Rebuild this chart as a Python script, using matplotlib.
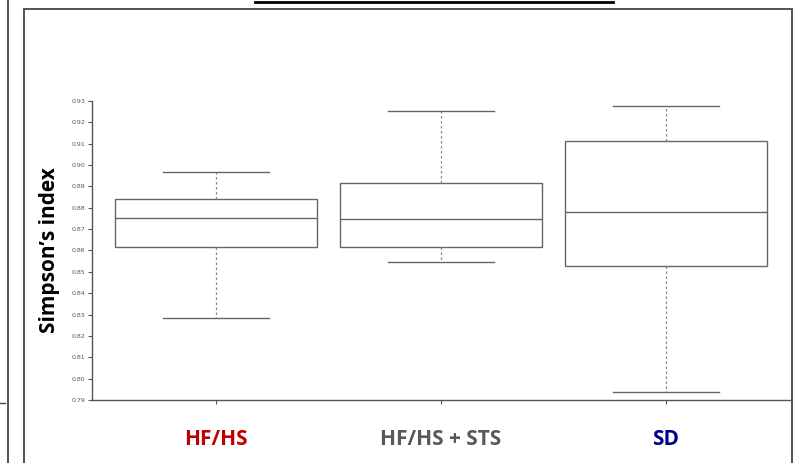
import matplotlib
matplotlib.use('Agg')
import matplotlib.pyplot as plt
import matplotlib.lines as mlines
import matplotlib.patches as patches

# data (box-plot summary per group)
groups = ['HF/HS', 'HF/HS + STS', 'SD']
group_colors = ['#c00000', '#595959', '#00008b']
whislo = [0.8284, 0.8546, 0.7938]
q1 = [0.8616, 0.8616, 0.8528]
med = [0.8752, 0.8748, 0.8780]
q3 = [0.8841, 0.8916, 0.9113]
whishi = [0.8968, 0.9253, 0.9277]
yticks = [0.79, 0.80, 0.81, 0.82, 0.83, 0.84, 0.85, 0.86, 0.87, 0.88, 0.89, 0.90, 0.91, 0.92, 0.93]

W, H = 796, 463
fig = plt.figure(figsize=(W / 100, H / 100), dpi=100, facecolor='white')
ax = fig.add_axes([92 / W, 1 - 400 / H, (790 - 92) / W, (400 - 101) / H])

stats = []
for i in range(len(groups)):
    stats.append(dict(label=groups[i], whislo=whislo[i], q1=q1[i], med=med[i],
                      q3=q3[i], whishi=whishi[i], fliers=[]))

edge = '#666666'
ax.bxp(stats, positions=[1, 2, 3], widths=0.9, showfliers=False, patch_artist=True,
       boxprops=dict(facecolor='white', edgecolor=edge, lw=1.0),
       medianprops=dict(color=edge, lw=1.0),
       whiskerprops=dict(color='#888888', lw=0.9, ls=(0, (2, 2))),
       capprops=dict(color=edge, lw=1.0), capwidths=0.47)

ax.set_xlim(1 - 124 / 225, 3 + 124 / 225)
ax.set_ylim(0.79, 0.93)
ax.set_yticks(yticks)
ax.set_yticklabels(['%.2f' % v for v in yticks])
ax.tick_params(axis='y', labelsize=4.5, labelcolor='#555555', color='#555555',
               length=3, width=0.8, pad=2)
ax.set_xticks([1, 2, 3])
ax.set_xticklabels(groups)
ax.tick_params(axis='x', length=3, width=0.8, color='#555555', pad=18, labelsize=15)
for lab, c in zip(ax.get_xticklabels(), group_colors):
    lab.set_color(c)
    lab.set_fontweight('bold')
    lab.set_family(['Open Sans', 'DejaVu Sans'])
for s in ['top', 'right']:
    ax.spines[s].set_visible(False)
for s in ['left', 'bottom']:
    ax.spines[s].set_color('#555555')
    ax.spines[s].set_linewidth(1.0)

ax.set_ylabel('Simpson\u2019s index', fontsize=15, fontweight='bold',
              family=['Open Sans', 'DejaVu Sans'], labelpad=8)

# panel frame and neighbouring panel edge
fig.add_artist(patches.Rectangle((24 / W, -0.05), (792 - 24) / W, 1.05 - 9 / H,
                                 transform=fig.transFigure, fill=False,
                                 edgecolor='#444444', lw=1.3))
fig.add_artist(mlines.Line2D([8 / W, 8 / W], [0, 1], transform=fig.transFigure,
                             color='#444444', lw=1.3))
fig.add_artist(mlines.Line2D([0, 5 / W], [1 - 403 / H, 1 - 403 / H],
                             transform=fig.transFigure, color='#444444', lw=1.0))
# underline of the cut-off title
fig.add_artist(mlines.Line2D([255 / W, 613 / W], [1 - 1.5 / H, 1 - 1.5 / H],
                             transform=fig.transFigure, color='black', lw=2.0))

fig.savefig('out.png', dpi=100, facecolor='white')
